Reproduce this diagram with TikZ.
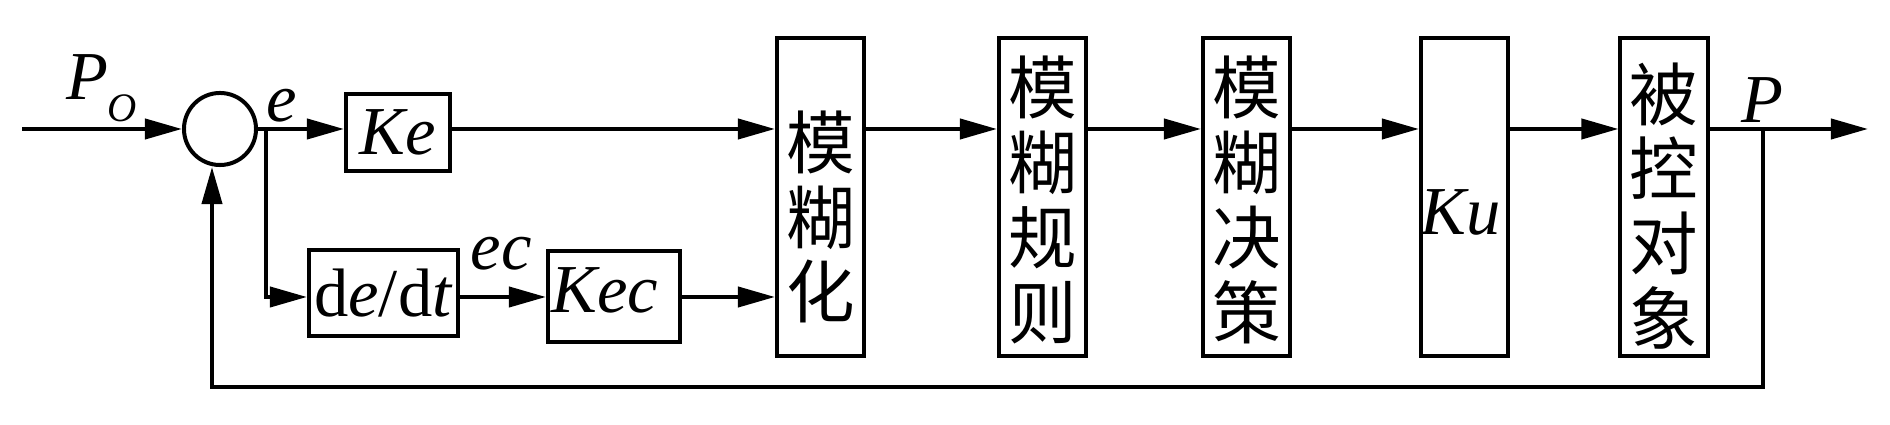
\documentclass[tikz,border=0pt]{standalone}
\usepackage{fontspec}
\setmainfont{Liberation Serif}
\newfontfamily\cjk{Noto Sans CJK SC}
\usetikzlibrary{arrows.meta}
\begin{document}
\begin{tikzpicture}[x=0.01cm,y=-0.01cm,
  line width=0.04cm,
  >={Triangle[length=0.37cm,width=0.2cm]},
  blk/.style={draw, rectangle, inner sep=0pt},
  tall/.style={blk, minimum width=0.87cm, minimum height=3.18cm},
  cjktext/.style={font=\cjk\fontsize{19.5pt}{21.3pt}\selectfont, align=center, inner sep=0pt},
  lat/.style={font=\fontsize{19.5pt}{23pt}\selectfont, inner sep=0pt, anchor=base},
  sumc/.style={draw, circle, minimum size=0.72cm, inner sep=0pt}]
\useasboundingbox (0,0) rectangle (1890,425);
% blocks
\node[sumc] (s) at (220,129) {};
\node[blk, minimum width=1.04cm, minimum height=0.77cm] (ke) at (398,132.5) {};
\node[blk, minimum width=1.49cm, minimum height=0.86cm] (dd) at (383.5,293) {};
\node[blk, minimum width=1.32cm, minimum height=0.91cm] (kec) at (614,296.5) {};
\node[tall] (fz) at (820.5,197) {};
\node[tall] (ru) at (1042.5,197) {};
\node[tall] (de) at (1246.5,197) {};
\node[tall] (ku) at (1464.5,197) {};
\node[tall] (pl) at (1664,197) {};
% block texts
\node[lat] (tke) at (398,155) {\itshape Ke};
\node[lat] (tdd) at (383.5,317) {d\textit{e}/d\textit{t}};
\node[lat] (tkec) at (605,313) {\itshape Kec};
\node[lat] (tku) at (1461,235) {\itshape Ku};
\node[cjktext] (tfz) at (820.5,217) {模\\糊\\化};
\node[cjktext] (tru) at (1042.5,200) {模\\糊\\规\\则};
\node[cjktext] (tde) at (1246.5,200) {模\\糊\\决\\策};
\node[cjktext] (tpl) at (1664,206) {被\\控\\对\\象};
% signal labels
\node[lat] (lp) at (87,100) {\itshape P};
\node[lat, font=\fontsize{11.5pt}{14pt}\selectfont] (lo) at (122,122) {\itshape O};
\node[lat] (le) at (282,122) {\itshape e};
\node[lat] (lec) at (501,270) {\itshape ec};
\node[lat] (lpo) at (1762,123) {\itshape P};
% coordinates
\coordinate (in) at (22,129);
\coordinate (b1) at (266,129);
\coordinate (lw) at (266,297);
\coordinate (b2) at (1763,129);
\coordinate (out) at (1868,129);
\coordinate (fb) at (1763,387);
\coordinate (fbin) at (212,387);
% connectors
\draw[->] (in) -- (s.west);
\draw[->] (s.east) -- (b1 -| ke.west);
\draw[->] (b1) -- (lw) -- (lw -| dd.west);
\draw[->] (lw -| dd.east) -- (lw -| kec.west);
\draw[->] (lw -| kec.east) -- (lw -| fz.west);
\draw[->] (b1 -| ke.east) -- (b1 -| fz.west);
\draw[->] (b1 -| fz.east) -- (b1 -| ru.west);
\draw[->] (b1 -| ru.east) -- (b1 -| de.west);
\draw[->] (b1 -| de.east) -- (b1 -| ku.west);
\draw[->] (b1 -| ku.east) -- (b1 -| pl.west);
\draw[->] (b1 -| pl.east) -- (out);
\draw[->] (b2) -- (fb) -- (fbin) -- (fbin |- s.south);
\end{tikzpicture}
\end{document}
